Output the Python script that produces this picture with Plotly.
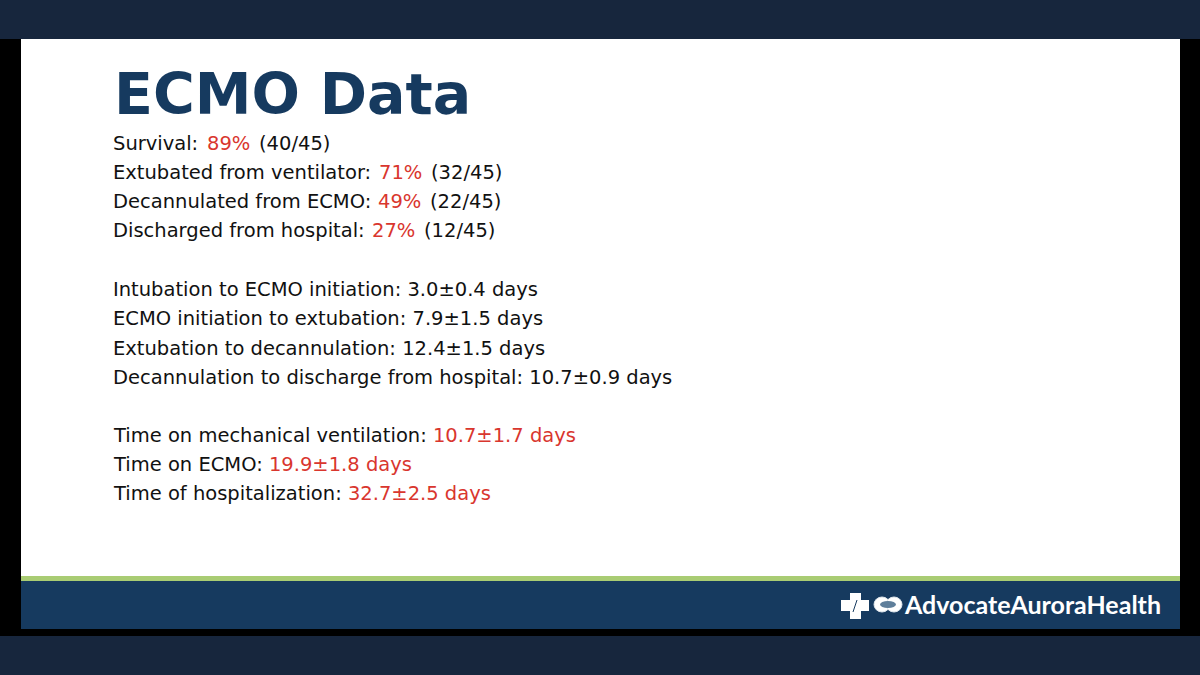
"""ECMO data slide."""

import plotly.graph_objects as go

NAVY = "#17263d"
BLUE = "#163a5f"
GREEN = "#a9cc73"
RED = "#d9362e"
INK = "#111111"

TITLE = "ECMO Data"
LOGO_TEXT = "AdvocateAuroraHealth"

outcome_labels = ["Survival:", "Extubated from ventilator:", "Decannulated from ECMO:", "Discharged from hospital:"]
outcome_pcts = ["89%", "71%", "49%", "27%"]
outcome_counts = ["(40/45)", "(32/45)", "(22/45)", "(12/45)"]

interval_lines = [
	"Intubation to ECMO initiation: 3.0±0.4 days",
	"ECMO initiation to extubation: 7.9±1.5 days",
	"Extubation to decannulation: 12.4±1.5 days",
	"Decannulation to discharge from hospital: 10.7±0.9 days",
]

duration_labels = ["Time on mechanical ventilation: ", "Time on ECMO: ", "Time of hospitalization: "]
duration_values = ["10.7±1.7 days", "19.9±1.8 days", "32.7±2.5 days"]

# left edges of the split outcome columns, the slide's font runs wider than DejaVu
pct_x = [205, 377, 376, 370]
count_x = [257, 429, 428, 422]


def red(text):
	return f'<span style="color:{RED}">{text}</span>'


def body_text(y, text, x=111):
	return dict(
		x=x, y=y, text=text, showarrow=False, xanchor="left", yanchor="middle",
		font=dict(family="DejaVu Sans", size=19.5, color=INK),
	)


def rect(x0, y0, x1, y1, color):
	return dict(type="rect", x0=x0, y0=y0, x1=x1, y1=y1, fillcolor=color, line_width=0, layer="below")


shapes = [
	rect(0, 0, 1200, 39, NAVY),
	rect(0, 39, 1200, 636, "#000000"),
	rect(0, 636, 1200, 675, NAVY),
	rect(21, 39, 1180, 576, "#ffffff"),
	rect(21, 576, 1180, 581, GREEN),
	rect(21, 581, 1180, 629, BLUE),
	# logo cross
	rect(850, 593, 861, 619, "#ffffff"),
	rect(841, 600, 869, 611, "#ffffff"),
	dict(type="line", x0=853, y0=612, x1=857, y1=600, line=dict(color=BLUE, width=1)),
	# logo rings
	dict(type="circle", x0=874, y0=597, x1=890, y1=612, fillcolor="#ffffff", line=dict(color="#dfe6ec", width=1)),
	dict(type="circle", x0=886, y0=597, x1=902, y1=612, fillcolor="#ffffff", line=dict(color="#dfe6ec", width=1)),
	dict(type="circle", x0=880, y0=601, x1=896, y1=608, fillcolor="#5f7f9b", line_width=0),
]

annotations = [
	dict(
		x=112, y=94, text=f"<b>{TITLE}</b>", showarrow=False, xanchor="left", yanchor="middle",
		font=dict(family="DejaVu Sans", size=57, color=BLUE),
	),
	dict(
		x=902, y=604, text=f"<b>{LOGO_TEXT}</b>", showarrow=False, xanchor="left", yanchor="middle",
		font=dict(family="Lato", size=25, color="#ffffff"),
	),
]

for i, label in enumerate(outcome_labels):
	row_y = 143 + i * 29.3
	annotations.append(body_text(row_y, label))
	annotations.append(body_text(row_y, red(outcome_pcts[i]), x=pct_x[i]))
	annotations.append(body_text(row_y, outcome_counts[i], x=count_x[i]))
for i, line in enumerate(interval_lines):
	annotations.append(body_text(289.5 + i * 29.3, line))
for i, label in enumerate(duration_labels):
	annotations.append(body_text(435.5 + i * 29, f"{label}{red(duration_values[i])}"))

fig = go.Figure()
fig.update_layout(
	width=1200,
	height=675,
	margin=dict(l=0, r=0, t=0, b=0),
	paper_bgcolor="#000000",
	plot_bgcolor="#000000",
	xaxis=dict(range=[0, 1200], visible=False, fixedrange=True),
	yaxis=dict(range=[675, 0], visible=False, fixedrange=True),
	shapes=shapes,
	annotations=annotations,
	showlegend=False,
)
fig.write_html(
	"out.html",
	config=dict(displayModeBar=False),
	post_script="document.body.style.margin='0';document.body.style.overflow='hidden';",
)
